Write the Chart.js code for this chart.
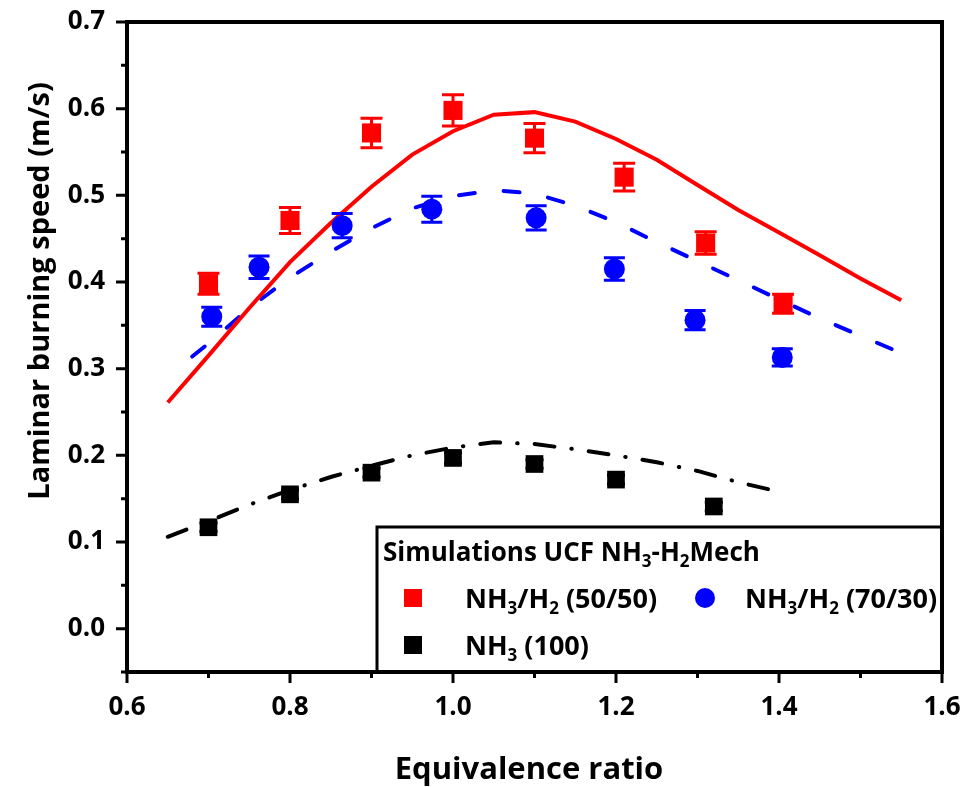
<!DOCTYPE html>
<html>
<head>
<meta charset="utf-8">
<script src="https://cdn.jsdelivr.net/npm/chart.js@4.4.0/dist/chart.umd.min.js"></script>
<style>
  html, body { margin: 0; padding: 0; background: #fff; }
  #wrap { width: 980px; height: 787px; position: relative; }
</style>
</head>
<body>
<div id="wrap"><canvas id="speedChart"></canvas></div>
<script>
// --- MEASURED LAMINAR BURNING SPEEDS (m/s) ---
const phi5050 = [0.70, 0.80, 0.90, 1.00, 1.10, 1.21, 1.31, 1.405];
const sl5050  = [0.398, 0.471, 0.572, 0.598, 0.566, 0.521, 0.445, 0.375];
const err5050 = [0.012, 0.015, 0.017, 0.018, 0.017, 0.016, 0.013, 0.011];

const phi7030 = [0.704, 0.762, 0.864, 0.974, 1.102, 1.198, 1.297, 1.404];
const sl7030  = [0.360, 0.417, 0.465, 0.484, 0.474, 0.415, 0.356, 0.313];
const err7030 = [0.011, 0.013, 0.014, 0.015, 0.014, 0.013, 0.011, 0.010];

const phi100 = [0.70, 0.80, 0.90, 1.00, 1.10, 1.20, 1.32];
const sl100  = [0.117, 0.155, 0.180, 0.197, 0.190, 0.172, 0.141];
const err100 = [0.005, 0.005, 0.005, 0.006, 0.005, 0.005, 0.005];

// --- UCF NH3-H2 MECHANISM PREDICTIONS ---
const simPhi5050 = [0.65, 0.70, 0.75, 0.80, 0.85, 0.90, 0.95, 1.00, 1.05, 1.10,
                    1.15, 1.20, 1.25, 1.30, 1.35, 1.40, 1.45, 1.50, 1.55];
const sim5050 = [0.261, 0.315, 0.370, 0.423, 0.468, 0.510, 0.547, 0.574, 0.593, 0.596,
                 0.585, 0.565, 0.541, 0.512, 0.483, 0.457, 0.431, 0.404, 0.379];

const simPhi7030 = [0.68, 0.70, 0.75, 0.80, 0.85, 0.90, 0.95, 1.00, 1.05, 1.10,
                    1.15, 1.20, 1.25, 1.30, 1.35, 1.40, 1.45, 1.50, 1.55];
const sim7030 = [0.314, 0.329, 0.370, 0.405, 0.435, 0.462, 0.485, 0.499, 0.506, 0.502,
                 0.488, 0.469, 0.446, 0.424, 0.402, 0.380, 0.358, 0.338, 0.318];

const simPhi100 = [0.65, 0.70, 0.75, 0.80, 0.85, 0.90, 0.95, 1.00, 1.05, 1.10,
                   1.15, 1.20, 1.25, 1.30, 1.35, 1.40];
const sim100 = [0.106, 0.124, 0.143, 0.160, 0.175, 0.188, 0.200, 0.209, 0.215, 0.213,
                0.207, 0.200, 0.192, 0.182, 0.169, 0.158];

// --- AXES ---
const xTicks = [0.6, 0.8, 1.0, 1.2, 1.4, 1.6];
const xMinor = [0.7, 0.9, 1.1, 1.3, 1.5];
const yTicks = [0.0, 0.1, 0.2, 0.3, 0.4, 0.5, 0.6, 0.7];
const yMinor = [-0.05, 0.05, 0.15, 0.25, 0.35, 0.45, 0.55, 0.65];

const RED = '#ff0000', BLUE = '#0000ff', BLACK = '#000000';
const FONT = '"Open Sans", Lato, sans-serif';

const pts = (xs, ys) => xs.map((x, i) => ({ x: x, y: ys[i] }));

// error bars for the measured points
const errorBars = {
    id: 'errorBars',
    afterDatasetsDraw(chart) {
        const ctx = chart.ctx;
        const ys = chart.scales.y;
        chart.data.datasets.forEach((ds, i) => {
            if (!ds.errors) return;
            const meta = chart.getDatasetMeta(i);
            ctx.save();
            ctx.strokeStyle = ds.borderColor;
            ctx.lineWidth = 3;
            meta.data.forEach((pt, j) => {
                const v = ds.data[j].y, e = ds.errors[j];
                const top = ys.getPixelForValue(v + e), bot = ys.getPixelForValue(v - e);
                const half = ds.capWidth / 2;
                ctx.beginPath();
                ctx.moveTo(pt.x, top); ctx.lineTo(pt.x, bot);
                ctx.moveTo(pt.x - half, top); ctx.lineTo(pt.x + half, top);
                ctx.moveTo(pt.x - half, bot); ctx.lineTo(pt.x + half, bot);
                ctx.stroke();
            });
            ctx.restore();
        });
    }
};

// text with subscript pieces, e.g. NH3
function drawRich(ctx, parts, x, y, size) {
    ctx.textAlign = 'left';
    ctx.textBaseline = 'alphabetic';
    parts.forEach(p => {
        const sub = Array.isArray(p);
        const txt = sub ? p[0] : p;
        ctx.font = 'bold ' + (sub ? Math.round(size * 0.64) : size) + 'px ' + FONT;
        ctx.fillText(txt, x, sub ? y + size * 0.24 : y);
        x += ctx.measureText(txt).width;
    });
    return x;
}

// frame, tick marks, axis titles and the legend box
const decorations = {
    id: 'decorations',
    afterDraw(chart) {
        const ctx = chart.ctx;
        const a = chart.chartArea;
        const xs = chart.scales.x, ys = chart.scales.y;
        ctx.save();
        ctx.strokeStyle = BLACK;
        ctx.fillStyle = BLACK;

        // tick marks pointing outwards
        ctx.lineWidth = 3;
        ctx.beginPath();
        xTicks.forEach(v => { const p = xs.getPixelForValue(v); ctx.moveTo(p, a.bottom); ctx.lineTo(p, a.bottom + 11); });
        xMinor.forEach(v => { const p = xs.getPixelForValue(v); ctx.moveTo(p, a.bottom); ctx.lineTo(p, a.bottom + 6); });
        yTicks.forEach(v => { const p = ys.getPixelForValue(v); ctx.moveTo(a.left, p); ctx.lineTo(a.left - 11, p); });
        yMinor.forEach(v => { const p = ys.getPixelForValue(v); ctx.moveTo(a.left, p); ctx.lineTo(a.left - 6, p); });
        ctx.stroke();

        // legend box
        const lx = 377, ly = 527;
        ctx.fillStyle = '#fff';
        ctx.fillRect(lx, ly, a.right - lx, a.bottom - ly);
        ctx.lineWidth = 3;
        ctx.strokeRect(lx, ly, a.right - lx, a.bottom - ly);

        ctx.fillStyle = BLACK;
        drawRich(ctx, ['Simulations UCF NH', ['3'], '-H', ['2'], 'Mech'], lx + 6, ly + 34, 26);

        ctx.fillStyle = RED;
        ctx.fillRect(lx + 27, ly + 62, 18, 18);
        ctx.fillStyle = BLUE;
        ctx.beginPath(); ctx.arc(lx + 328, ly + 71, 10, 0, Math.PI * 2); ctx.fill();
        ctx.fillStyle = BLACK;
        ctx.fillRect(lx + 27, ly + 109, 18, 18);
        drawRich(ctx, ['NH', ['3'], '/H', ['2'], ' (50/50)'], lx + 88, ly + 81, 27);
        drawRich(ctx, ['NH', ['3'], '/H', ['2'], ' (70/30)'], lx + 368, ly + 81, 27);
        drawRich(ctx, ['NH', ['3'], ' (100)'], lx + 88, ly + 128, 27);

        // frame round the plot
        ctx.lineWidth = 4;
        ctx.strokeRect(a.left, a.top, a.right - a.left, a.bottom - a.top);

        // axis titles
        ctx.font = 'bold 31px ' + FONT;
        ctx.textAlign = 'center';
        ctx.textBaseline = 'middle';
        ctx.fillText('Equivalence ratio', 529, 770);
        ctx.translate(41, 291);
        ctx.rotate(-Math.PI / 2);
        ctx.font = 'bold 29px ' + FONT;
        ctx.fillText('Laminar burning speed (m/s)', 0, 0);
        ctx.restore();
    }
};

const ctx = document.getElementById('speedChart').getContext('2d');
const speedChart = new Chart(ctx, {
    type: 'scatter',
    data: {
        datasets: [
            { label: 'NH3/H2 (50/50)', data: pts(phi5050, sl5050), errors: err5050, capWidth: 22,
              backgroundColor: RED, borderColor: RED, pointStyle: 'rect', pointRadius: 13.5,
              pointBorderWidth: 0, order: 0 },
            { label: 'NH3/H2 (70/30)', data: pts(phi7030, sl7030), errors: err7030, capWidth: 21,
              backgroundColor: BLUE, borderColor: BLUE, pointStyle: 'circle', pointRadius: 10.5,
              pointBorderWidth: 0, order: 0 },
            { label: 'NH3 (100)', data: pts(phi100, sl100), errors: err100, capWidth: 18,
              backgroundColor: BLACK, borderColor: BLACK, pointStyle: 'rect', pointRadius: 12.5,
              pointBorderWidth: 0, order: 0 },
            { label: 'sim 50/50', data: pts(simPhi5050, sim5050), showLine: true, pointRadius: 0,
              borderColor: RED, borderWidth: 4, order: 1 },
            { label: 'sim 70/30', data: pts(simPhi7030, sim7030), showLine: true, pointRadius: 0,
              borderColor: BLUE, borderWidth: 4, borderDash: [16, 29], borderCapStyle: 'round', order: 1 },
            { label: 'sim 100', data: pts(simPhi100, sim100), showLine: true, pointRadius: 0,
              borderColor: BLACK, borderWidth: 4, borderDash: [20, 17, 0.5, 17], borderCapStyle: 'round', order: 1 }
        ]
    },
    options: {
        responsive: true,
        maintainAspectRatio: false,
        animation: false,
        layout: { padding: { top: 22, right: 38, left: 0, bottom: 0 } },
        plugins: { legend: { display: false }, tooltip: { enabled: false } },
        scales: {
            x: {
                type: 'linear', min: 0.6, max: 1.6,
                afterBuildTicks: s => { s.ticks = xTicks.map(v => ({ value: v })); },
                afterFit: s => { s.height = 115; s.paddingLeft = 0; s.paddingRight = 0; },
                grid: { display: false, drawTicks: false },
                border: { display: false },
                ticks: { color: BLACK, padding: 20, maxRotation: 0,
                         font: { family: FONT, size: 26, weight: 'bold' },
                         callback: v => v.toFixed(1) }
            },
            y: {
                type: 'linear', min: -0.05, max: 0.7,
                afterBuildTicks: s => { s.ticks = yTicks.map(v => ({ value: v })); },
                afterFit: s => { s.width = 127; s.paddingTop = 0; s.paddingBottom = 0; },
                grid: { display: false, drawTicks: false },
                border: { display: false },
                ticks: { color: BLACK, padding: 22,
                         font: { family: FONT, size: 26, weight: 'bold' },
                         callback: v => v.toFixed(1) }
            }
        }
    },
    plugins: [errorBars, decorations]
});
</script>
</body>
</html>
